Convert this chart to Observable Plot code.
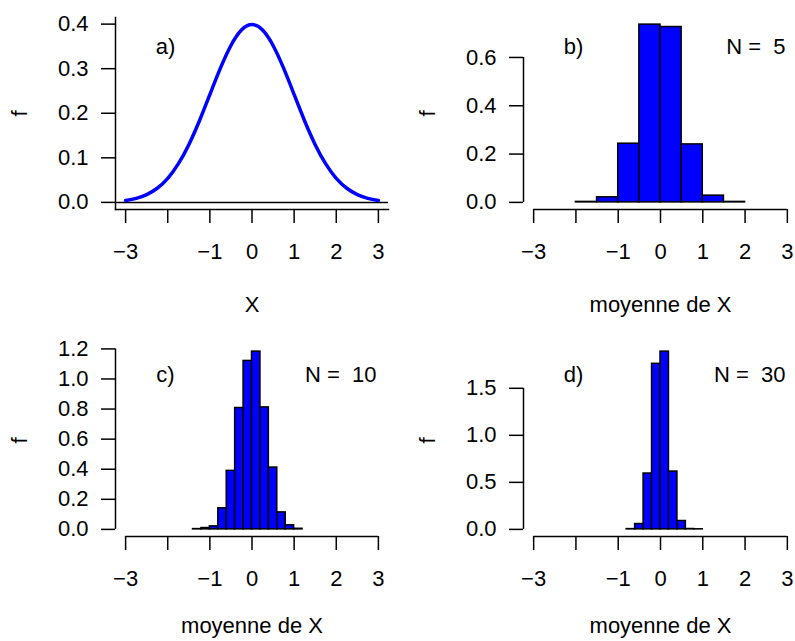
<!DOCTYPE html>
<html>
<head>
<meta charset="utf-8">
<script src="https://cdn.jsdelivr.net/npm/d3@7"></script>
<script src="https://cdn.jsdelivr.net/npm/@observablehq/plot@0.6"></script>
<style>
  html, body { margin: 0; padding: 0; background: #ffffff; }
  #fig { position: relative; width: 795px; height: 641px; overflow: hidden; background: #ffffff; }
  #fig svg { position: absolute; background: transparent; max-width: none; }
  #fig text { white-space: pre; }
</style>
</head>
<body>
<div id="fig"></div>
<script>
// Panel a): standard normal density, sampled every 0.25
const curveX = [-3, -2.75, -2.5, -2.25, -2, -1.75, -1.5, -1.25, -1, -0.75, -0.5, -0.25, 0,
                0.25, 0.5, 0.75, 1, 1.25, 1.5, 1.75, 2, 2.25, 2.5, 2.75, 3];
const curveF = [0.0044, 0.0091, 0.0175, 0.0317, 0.0540, 0.0863, 0.1295, 0.1826, 0.2420, 0.3011, 0.3521, 0.3867, 0.3989,
                0.3867, 0.3521, 0.3011, 0.2420, 0.1826, 0.1295, 0.0863, 0.0540, 0.0317, 0.0175, 0.0091, 0.0044];

// Panel b): histogram of sample means, N = 5
const breaksB = [-2, -1.5, -1, -0.5, 0, 0.5, 1, 1.5, 2];
const densB = [0.002, 0.021, 0.243, 0.736, 0.726, 0.240, 0.028, 0.002];

// Panel c): N = 10
const breaksC = [-1.4, -1.2, -1.0, -0.8, -0.6, -0.4, -0.2, 0, 0.2, 0.4, 0.6, 0.8, 1.0, 1.2];
const densC = [0.002, 0.009, 0.020, 0.140, 0.389, 0.807, 1.120, 1.182, 0.811, 0.411, 0.113, 0.027, 0.004];

// Panel d): N = 30
const breaksD = [-0.8, -0.6, -0.4, -0.2, 0, 0.2, 0.4, 0.6, 0.8, 1.0];
const densD = [0.003, 0.057, 0.594, 1.760, 1.890, 0.615, 0.089, 0.004, 0.001];

// Axis ticks and labels
const xTicks = [-3, -2, -1, 0, 1, 2, 3];
const xTickLabels = ["\u22123", "", "\u22121", "0", "1", "2", "3"];
const yTicksA = [0, 0.1, 0.2, 0.3, 0.4];
const yTicksB = [0, 0.2, 0.4, 0.6];
const yTicksC = [0, 0.2, 0.4, 0.6, 0.8, 1.0, 1.2];
const yTicksD = [0, 0.5, 1.0, 1.5];

// Panel texts
const panelTags = ["a)", "b)", "c)", "d)"];
const sizeLabels = ["", "N =  5", "N =  10", "N =  30"];
const xTitles = ["X", "moyenne de X", "moyenne de X", "moyenne de X"];
const yTitle = "f";

const FONT = "'Liberation Sans', Arial, Helvetica, sans-serif";
const FS = 22;
const BLUE = "#0000ff";
const LW = 1.5;

// Extend a range by 4% on each side, as base R graphics does
function pad(lo, hi) { const d = (hi - lo) * 0.04; return [lo - d, hi + d]; }

function makePanel(i, opts) {
  const { left, top, width, height, margin, yTicks, marks, ymax, boxed, tagDy, titleDy } = opts;
  const xDom = pad(-3, 3);
  const yDom = pad(0, ymax);
  const yFmt = d3.format(".1f");

  const axisMarks = [];
  if (boxed) {
    axisMarks.push(Plot.frame({ anchor: "left", stroke: "black", strokeWidth: LW }));
    axisMarks.push(Plot.frame({ anchor: "bottom", stroke: "black", strokeWidth: LW }));
  } else {
    axisMarks.push(Plot.ruleX([{ x: xDom[0], y1: yTicks[0], y2: yTicks[yTicks.length - 1] }],
      { x: "x", y1: "y1", y2: "y2", stroke: "black", strokeWidth: LW }));
    axisMarks.push(Plot.ruleY([{ y: yDom[0], x1: xTicks[0], x2: xTicks[xTicks.length - 1] }],
      { y: "y", x1: "x1", x2: "x2", stroke: "black", strokeWidth: LW }));
  }

  const svg = Plot.plot({
    width, height,
    marginLeft: margin[3], marginRight: margin[1], marginTop: margin[0], marginBottom: margin[2],
    style: { fontFamily: FONT, fontSize: FS + "px", color: "black", background: "transparent", overflow: "visible" },
    x: { domain: xDom, axis: null, label: null },
    y: { domain: yDom, axis: null, label: null },
    marks: [
      ...marks,
      ...axisMarks,
      Plot.axisX({ ticks: xTicks, tickSize: 14, tickPadding: 20, strokeWidth: LW, label: null,
                   tickFormat: (d, k) => xTickLabels[k], fontSize: FS, anchor: "bottom" }),
      Plot.axisY({ ticks: yTicks, tickSize: 14, tickPadding: 13, strokeWidth: LW, label: null,
                   tickFormat: yFmt, fontSize: FS, anchor: "left" }),
      Plot.text([panelTags[i]], { frameAnchor: "top-left", dx: 50, dy: tagDy, textAnchor: "middle",
                                  lineAnchor: "middle", fontSize: FS, fill: "black" }),
      Plot.text([sizeLabels[i]], { frameAnchor: "top-right", dx: -12, dy: tagDy, textAnchor: "end",
                                   lineAnchor: "middle", fontSize: FS, fill: "black" }),
      Plot.text([xTitles[i]], { frameAnchor: "bottom", dy: titleDy, textAnchor: "middle",
                                lineAnchor: "middle", fontSize: FS, fill: "black" }),
      Plot.text([yTitle], { frameAnchor: "left", dx: -96, rotate: -90, textAnchor: "middle",
                            lineAnchor: "middle", fontSize: FS, fill: "black" })
    ]
  });
  svg.style.left = left + "px";
  svg.style.top = top + "px";
  document.getElementById("fig").appendChild(svg);
}

function histMarks(breaks, dens) {
  const bins = dens.map((d, k) => ({ x1: breaks[k], x2: breaks[k + 1], d }));
  return [Plot.rectY(bins, { x1: "x1", x2: "x2", y: "d", fill: BLUE, stroke: "black", strokeWidth: LW })];
}

const curve = curveX.map((x, k) => ({ x, f: curveF[k] }));

// a) density curve with baseline
makePanel(0, {
  left: 0, top: 0, width: 398, height: 320, margin: [17, 10, 111, 115],
  yTicks: yTicksA, ymax: d3.max(curveF), boxed: true, tagDy: 29, titleDy: 95,
  marks: [
    Plot.ruleY([0], { stroke: "black", strokeWidth: LW }),
    Plot.line(curve, { x: "x", y: "f", stroke: BLUE, strokeWidth: 3.5, curve: "natural" })
  ]
});

// b) N = 5
makePanel(1, {
  left: 398, top: 0, width: 400, height: 320, margin: [17, 1, 111, 125],
  yTicks: yTicksB, ymax: d3.max(densB), boxed: false, tagDy: 29, titleDy: 95,
  marks: histMarks(breaksB, densB)
});

// c) N = 10
makePanel(2, {
  left: 0, top: 320, width: 398, height: 321, margin: [24, 10, 105, 115],
  yTicks: yTicksC, ymax: d3.max(densC), boxed: false, tagDy: 30, titleDy: 89,
  marks: histMarks(breaksC, densC)
});

// d) N = 30
makePanel(3, {
  left: 398, top: 320, width: 400, height: 321, margin: [24, 1, 105, 125],
  yTicks: yTicksD, ymax: d3.max(densD), boxed: false, tagDy: 30, titleDy: 89,
  marks: histMarks(breaksD, densD)
});
</script>
</body>
</html>
